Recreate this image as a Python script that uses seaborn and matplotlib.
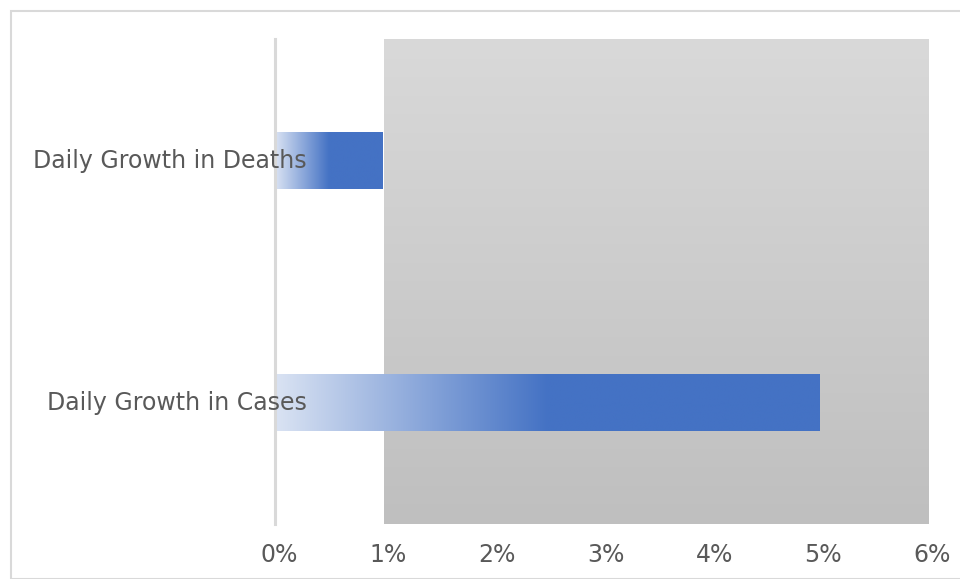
import numpy as np
import pandas as pd
import matplotlib
matplotlib.use("Agg")
import matplotlib.pyplot as plt
import seaborn as sns
from matplotlib.colors import LinearSegmentedColormap, to_rgb
from matplotlib.patches import Rectangle
from matplotlib.ticker import PercentFormatter
from matplotlib.transforms import ScaledTranslation

categories = ["Daily Growth in Deaths", "Daily Growth in Cases"]
values = [0.0099, 0.050]
shade_range = [0.01, 0.06]
x_ticks = [0, 0.01, 0.02, 0.03, 0.04, 0.05, 0.06]

sns.set_theme(style="white")
plt.rcParams['font.family'] = ['DejaVu Sans']

df = pd.DataFrame({"category": categories, "value": values})

fig = plt.figure(figsize=(9.6, 5.79), dpi=100)
ax = fig.add_axes([275/960, 1-524/579, (928-275)/960, (524-39)/579])

sns.barplot(data=df, x="value", y="category", order=categories, orient="h",
            width=0.235, ax=ax, color="#4472C4")

ax.set_xlim(0, 0.06)
ylim = ax.get_ylim()

# gray gradient shading
gray = LinearSegmentedColormap.from_list("g", ["#d9d9d9", "#bfbfbf"])
grad_v = np.linspace(0, 1, 256).reshape(-1, 1)
ax.imshow(grad_v, cmap=gray, aspect="auto", origin="upper",
          extent=[shade_range[0], shade_range[1], ylim[0], ylim[1]],
          zorder=0.5, interpolation="bicubic")

# gradient bars
light = np.array(to_rgb("#dae3f3"))
blue = np.array(to_rgb("#4472C4"))
for p in ax.patches:
    x0, y0 = p.get_x(), p.get_y()
    w, h = p.get_width(), p.get_height()
    t = np.linspace(0, 1, 400)
    f = np.clip(t / 0.5, 0, 1)
    cols = light[None, :] * (1 - f[:, None]) + blue[None, :] * f[:, None]
    img = cols[None, :, :]
    im = ax.imshow(img, aspect="auto", extent=[x0, x0 + w, y0 + h, y0],
                   zorder=2, interpolation="bilinear")
    im.set_clip_path(p)
    p.set_facecolor("none")
    p.set_edgecolor("none")

ax.set_xlim(0, 0.06)
ax.set_ylim(ylim)

ax.set_xticks(x_ticks)
ax.xaxis.set_major_formatter(PercentFormatter(1.0, decimals=0))
ax.set_xlabel("")
ax.set_ylabel("")
for s in ["top", "right", "bottom"]:
    ax.spines[s].set_visible(False)
ax.spines["left"].set_color("#d9d9d9")
ax.spines["left"].set_linewidth(2.2)
ax.spines["left"].set_zorder(3)
ax.tick_params(axis="x", length=0, pad=14, labelsize=17, labelcolor="#595959")
ax.tick_params(axis="y", length=0, pad=-23, labelsize=17, labelcolor="#595959")
ax.yaxis.set_zorder(5)
ax.xaxis.set_zorder(5)
xoff = ScaledTranslation(4/100, 0, fig.dpi_scale_trans)
for lab in ax.get_xticklabels():
    lab.set_transform(lab.get_transform() + xoff)
yoff = ScaledTranslation(0, 2/100, fig.dpi_scale_trans)
for lab in ax.get_yticklabels():
    lab.set_transform(lab.get_transform() + yoff)
ax.set_facecolor("none")

fig.patches.append(Rectangle((10.5/960, 0), 1, 1 - 10.5/579, transform=fig.transFigure,
                             fill=False, edgecolor="#d9d9d9", linewidth=1.5))

fig.savefig("out.png", dpi=100)
